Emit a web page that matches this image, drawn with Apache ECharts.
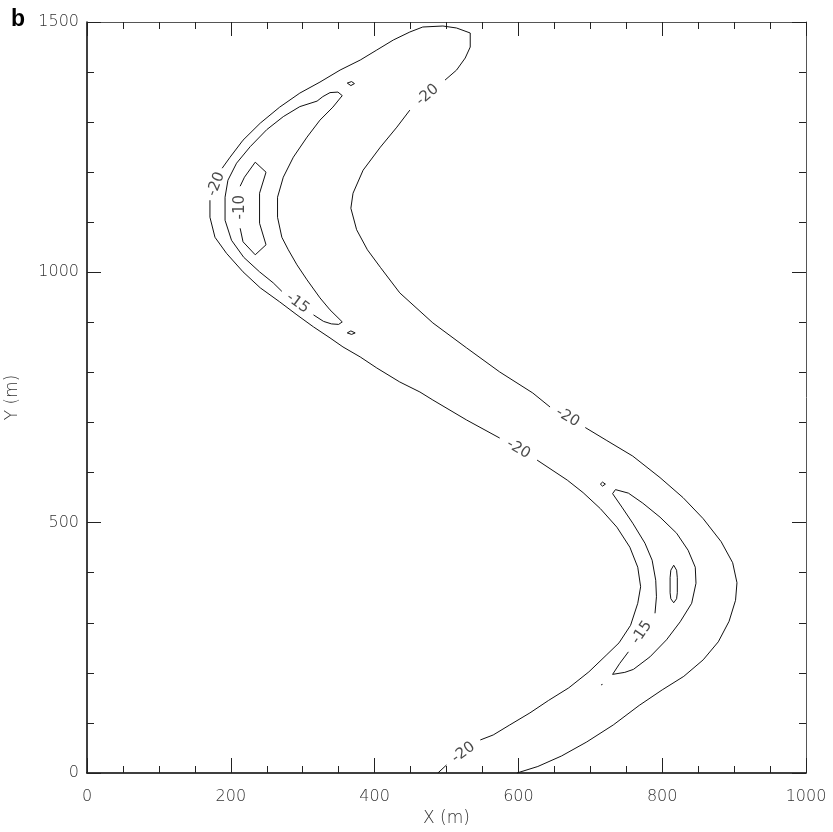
<!DOCTYPE html>
<html>
<head>
<meta charset="utf-8">
<script src="https://cdn.jsdelivr.net/npm/echarts@6/dist/echarts.min.js"></script>
<style>
  html, body { margin: 0; padding: 0; background: #fff; }
  #chart { width: 833px; height: 832px; }
</style>
</head>
<body>
<div id="chart"></div>
<script>
// Contour paths in metres [x, y]; a null marks the gap where the level label sits.
const contourMinus20 = [
  [598,0],[627,13],[660,34],[695,62],[732,96],[768,135],[800,166],[830,193],[857,226],[878,262],
  [893,303],[902,345],[904,380],[898,420],[882,462],[857,508],[829,550],[797,590],[759,633],[723,664],[693,690],
  null,
  [644,731],[620,759],[574,801],[528,849],[481,899],[435,959],[408,1010],[390,1045],[375,1085],[367,1128],
  [370,1158],[384,1204],[408,1250],[431,1290],[449,1324],
  null,
  [498,1384],[514,1404],[526,1428],[533,1450],[533,1478],[514,1488],[495,1492],[467,1490],[449,1480],[426,1464],
  [403,1444],[380,1424],[352,1404],[324,1380],[296,1358],[268,1330],[241,1298],[217,1264],[199,1230],[188,1208],
  null,
  [171,1144],[171,1110],[178,1070],[194,1038],[217,1001],[241,969],[268,941],[292,915],[315,891],[338,869],
  [356,851],[380,831],[403,809],[435,781],[463,761],[481,745],[528,705],[574,669],
  null,
  [626,625],[668,585],[690,560],[714,528],[737,491],[755,451],[766,411],[770,372],[766,339],[756,295],
  [740,260],[722,235],[698,202],[670,170],[642,145],[616,120],[588,96],[565,76],[547,66],
  null,
  [500,16],[488,0]
];

const contourMinus15West = [
  [355,1353],[349,1360],[338,1359],[328,1351],[320,1342],[296,1331],[273,1311],[250,1285],[227,1251],[208,1218],
  [196,1184],[192,1150],[192,1104],[201,1064],[218,1030],[240,1001],[259,979],[271,962],
  null,
  [315,915],[329,902],[340,897],[350,896],[355,901],[338,925],[324,949],[306,985],[292,1015],[280,1045],
  [271,1070],[265,1110],[265,1150],[273,1190],[287,1230],[306,1270],[324,1304],[342,1330],[355,1353]
];

const contourMinus10West = [
  [234,1220],[249,1200],[240,1158],[240,1098],[249,1055],[234,1035],[217,1061],[213,1088],
  null,
  [213,1172],[219,1190],[234,1220]
];

const contourMinus15East = [
  [731,558],[744,531],[759,499],[776,459],[786,425],[791,385],[792,352],[790,319],
  null,
  [753,242],[741,219],[731,197],[748,201],[760,207],[783,232],[806,266],[825,302],[841,339],[847,379],
  [846,411],[836,445],[820,479],[797,511],[773,539],[753,559],[735,566],[731,558]
];

const contourMinus10East = [
  [816,415],[820,405],[821,390],[821,360],[820,348],[816,340],[812,348],[811,360],[811,390],[812,405],[816,415]
];

// Small closed specks
const speckWestNorth = [[362,1378],[368,1381],[372,1377],[367,1373],[362,1378]];
const speckWestSouth = [[362,879],[367,883],[373,879],[368,876],[362,879]];
const speckEast = [[714,577],[717,581],[721,577],[717,573],[714,577]];
const speckEastDot = [[715,176],[717,177]];

const contourLevels = [
  { level: -20, path: contourMinus20 },
  { level: -15, path: contourMinus15West },
  { level: -10, path: contourMinus10West },
  { level: -15, path: contourMinus15East },
  { level: -10, path: contourMinus10East },
  { level: -15, path: speckWestNorth },
  { level: -15, path: speckWestSouth },
  { level: -15, path: speckEast },
  { level: -15, path: speckEastDot }
];

const xRange = [0, 1000];
const yRange = [0, 1500];

const LABEL_FONT = 'DejaVu Sans';
const INK = '#111';

function splitPath(path) {
  const parts = [];
  let cur = [];
  path.forEach(p => {
    if (p === null) { if (cur.length) parts.push(cur); cur = []; }
    else cur.push(p);
  });
  if (cur.length) parts.push(cur);
  return parts;
}

const lineSeries = [];
contourLevels.forEach(c => {
  splitPath(c.path).forEach(seg => {
    lineSeries.push({
      type: 'line',
      data: seg,
      showSymbol: false,
      symbol: 'none',
      silent: true,
      lineStyle: { color: INK, width: 1 },
      z: 3
    });
  });
});

const plainNumber = v => String(v);
const tickStyle = { color: '#222', width: 1 };

const chart = echarts.init(document.getElementById('chart'), null, { renderer: 'canvas' });

const option = {
  animation: false,
  backgroundColor: '#fff',
  title: {
    text: 'b', left: 11, top: 8, padding: 0,
    textStyle: { fontFamily: 'Liberation Sans', fontWeight: 'bold', fontSize: 23, color: '#000' }
  },
  grid: { left: 87, top: 22, right: 27, bottom: 59, outerBoundsMode: 'none', containLabel: false },
  xAxis: [
    {
      type: 'value', position: 'bottom', min: xRange[0], max: xRange[1], interval: 200,
      name: 'X (m)', nameLocation: 'middle', nameGap: 29,
      nameTextStyle: { fontFamily: LABEL_FONT, fontWeight: 200, fontSize: 17, color: '#333' },
      axisLine: { show: true, onZero: false, lineStyle: { color: '#000', width: 1.5 } },
      axisTick: { inside: true, length: 15, lineStyle: tickStyle },
      minorTick: { show: true, splitNumber: 4, length: 7, lineStyle: tickStyle },
      splitLine: { show: false }, minorSplitLine: { show: false },
      axisLabel: { margin: 16, formatter: plainNumber, fontFamily: LABEL_FONT, fontWeight: 200, fontSize: 16, color: '#333' }
    },
    {
      type: 'value', position: 'top', min: xRange[0], max: xRange[1], interval: 200,
      axisLine: { show: true, onZero: false, lineStyle: { color: '#555', width: 1 } },
      axisTick: { inside: true, length: 14, lineStyle: tickStyle },
      minorTick: { show: true, splitNumber: 4, length: 7, lineStyle: tickStyle },
      splitLine: { show: false }, minorSplitLine: { show: false },
      axisLabel: { show: false }
    }
  ],
  yAxis: [
    {
      type: 'value', position: 'left', min: yRange[0], max: yRange[1], interval: 500,
      name: 'Y (m)', nameLocation: 'middle', nameGap: 66, nameRotate: 90,
      nameTextStyle: { fontFamily: LABEL_FONT, fontWeight: 200, fontSize: 17, color: '#333' },
      axisLine: { show: true, onZero: false, lineStyle: { color: '#000', width: 1.5 } },
      axisTick: { inside: true, length: 14, lineStyle: tickStyle },
      minorTick: { show: true, splitNumber: 5, length: 7, lineStyle: tickStyle },
      splitLine: { show: false }, minorSplitLine: { show: false },
      axisLabel: { margin: 8, formatter: plainNumber, fontFamily: LABEL_FONT, fontWeight: 200, fontSize: 16, color: '#333' }
    },
    {
      type: 'value', position: 'right', min: yRange[0], max: yRange[1], interval: 500,
      axisLine: { show: true, onZero: false, lineStyle: { color: '#555', width: 1 } },
      axisTick: { inside: true, length: 14, lineStyle: tickStyle },
      minorTick: { show: true, splitNumber: 5, length: 7, lineStyle: tickStyle },
      splitLine: { show: false }, minorSplitLine: { show: false },
      axisLabel: { show: false }
    }
  ],
  series: lineSeries
};

chart.setOption(option);

// Level labels: centred in each gap and turned along the local run of the contour.
const labelData = [];
contourLevels.forEach(c => {
  c.path.forEach((p, i) => {
    if (p !== null) return;
    const a = c.path[i - 1], b = c.path[i + 1];
    const pa = chart.convertToPixel({ gridIndex: 0 }, a);
    const pb = chart.convertToPixel({ gridIndex: 0 }, b);
    let ang = Math.atan2(-(pb[1] - pa[1]), pb[0] - pa[0]) * 180 / Math.PI;
    if (ang > 90) ang -= 180;
    if (ang <= -90) ang += 180;
    labelData.push({
      value: [(a[0] + b[0]) / 2, (a[1] + b[1]) / 2],
      label: { formatter: String(c.level), rotate: ang }
    });
  });
});

chart.setOption({
  series: lineSeries.concat([{
    type: 'scatter',
    data: labelData,
    symbol: 'circle',
    symbolSize: 2,
    silent: true,
    itemStyle: { color: 'rgba(255,255,255,0)' },
    label: {
      show: true, position: 'inside', fontFamily: LABEL_FONT, fontWeight: 'normal',
      fontSize: 15, color: '#1a1a1a'
    },
    labelLayout: { hideOverlap: false },
    z: 4
  }])
});
</script>
</body>
</html>
